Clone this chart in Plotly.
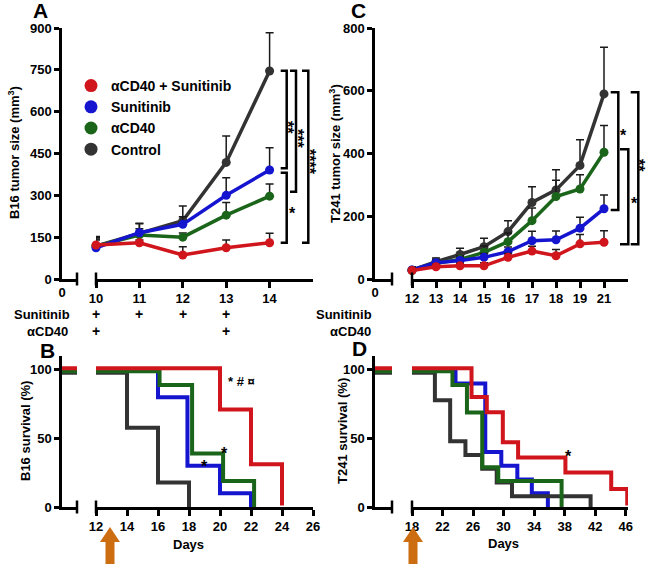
import plotly.graph_objects as go

W, H = 650, 565
def X(px): return px / W
def Y(py): return 1 - py / H

RED, BLUE, GREEN, BLACK = "#d0151d", "#1515d0", "#1b651b", "#333333"
ERRC = "#1a1a1a"
ORANGE = "#cc6d12"
FONT = "Liberation Sans Narrow, Liberation Sans, Arial, sans-serif"
FONT2 = "Liberation Sans, Arial, sans-serif"

names = ["αCD40 + Sunitinib", "Sunitinib", "αCD40", "Control"]
colors = [RED, BLUE, GREEN, BLACK]

# ---------------- Panel A: B16 tumor size ----------------
A_days = [10, 11, 12, 13, 14]
A_red = [122, 130, 86, 112, 130]
A_red_err = [30, 10, 30, 28, 34]
A_blue = [112, 166, 196, 300, 391]
A_blue_err = [28, 32, 27, 63, 80]
A_green = [118, 158, 150, 229, 297]
A_green_err = [25, 22, 15, 45, 44]
A_black = [118, 164, 209, 418, 746]
A_black_err = [30, 36, 53, 95, 137]

# ---------------- Panel C: T241 tumor size ----------------
C_days = ["12", "13", "14", "15", "16", "17", "18", "19", "21"]
C_red = [27, 39, 42, 42, 69, 89, 74, 112, 117]
C_red_err = [10, 8, 8, 10, 12, 15, 20, 30, 37]
C_blue = [29, 52, 59, 69, 87, 122, 125, 162, 224]
C_blue_err = [10, 10, 10, 12, 15, 30, 28, 35, 44]
C_green = [28, 50, 62, 85, 119, 186, 263, 287, 404]
C_green_err = [8, 10, 12, 20, 28, 40, 52, 45, 85]
C_black = [28, 55, 78, 103, 151, 244, 284, 362, 590]
C_black_err = [10, 12, 20, 27, 35, 50, 64, 82, 149]

# ---------------- Panel B: B16 survival ----------------
B_red_t = [0, 20, 22, 24]
B_red_s = [100, 70, 30, 0]
B_blue_t = [0, 16, 17.9, 20, 22]
B_blue_s = [100, 80, 30, 10, 0]
B_green_t = [0, 16.1, 18.2, 20.2, 22.2]
B_green_s = [100, 90, 40, 20, 0]
B_black_t = [0, 14, 16, 18]
B_black_s = [100, 60, 20, 0]

# ---------------- Panel D: T241 survival ----------------
D_red_t = [0, 25.8, 27.8, 29.9, 31.9, 38.1, 44.1, 46.2]
D_red_s = [100, 79, 68, 46, 35, 24, 12, 0]
D_blue_t = [0, 23.7, 27.6, 29.7, 31.8, 33.7, 35.8]
D_blue_s = [100, 90, 40, 30, 20, 10, 0]
D_green_t = [0, 23.3, 25.2, 27.2, 29.3, 37.6]
D_green_s = [100, 90, 70, 30, 20, 0]
D_black_t = [0, 21, 23, 25, 27.2, 29.1, 31.1, 41.4]
D_black_s = [100, 80, 50, 40, 30, 20, 10, 0]

# treatment schedule
A_sunitinib_days = [10, 11, 12, 13]
A_cd40_days = [10, 13]
C_sunitinib_days = ["12", "13", "14", "15", "16", "17", "18"]
C_cd40_days = ["12", "15", "18"]

A_xticks = [10, 11, 12, 13, 14]
B_xticks = [12, 14, 16, 18, 20, 22, 24, 26]
D_xticks = [18, 22, 26, 30, 34, 38, 42, 46]

fig = go.Figure()

tickfont = dict(family=FONT, size=13, color="black", weight="bold")

def yax(domain, rng, anchor, tickvals, **kw):
    d = dict(domain=domain, range=rng, anchor=anchor, tickvals=tickvals,
             showline=True, linecolor="black", linewidth=2.5, ticks="outside",
             ticklen=5, tickwidth=2.5, tickcolor="black", showgrid=False,
             zeroline=False, tickfont=tickfont, fixedrange=True, automargin=False)
    d.update(kw)
    return d

def xax(domain, rng, anchor, tickvals=None, **kw):
    d = dict(domain=domain, range=rng, anchor=anchor, showline=True,
             linecolor="black", linewidth=2.5, ticks="outside", ticklen=6,
             tickwidth=2.5, tickcolor="black", showgrid=False, zeroline=False,
             tickfont=tickfont, fixedrange=True, automargin=False)
    if tickvals is not None:
        d["tickvals"] = tickvals
    d.update(kw)
    return d

top_dom = [Y(279), Y(28)]
bot_dom = [Y(507), Y(356)]

layout_axes = dict(
    xaxis=xax([X(62), X(77)], [0, 1], "y", [0], ticktext=["0"], ticks=""),
    xaxis2=xax([X(96), X(313)], [10, 15], "y", A_xticks),
    yaxis=yax(top_dom, [0, 900], "x", [0, 150, 300, 450, 600, 750, 900]),
    xaxis3=xax([X(375), X(392)], [0, 1], "y2", [0], ticktext=["0"], ticks=""),
    xaxis4=xax([X(412), X(628)], [0, 9], "y2", None, type="category",
               categoryorder="array", categoryarray=C_days),
    yaxis2=yax(top_dom, [0, 800], "x3", [0, 200, 400, 600, 800]),
    xaxis5=xax([X(62), X(77)], [0, 1], "y3", None, showticklabels=False, ticks=""),
    xaxis6=xax([X(96), X(313)], [12, 26], "y3", B_xticks),
    yaxis3=yax(bot_dom, [0, 110], "x5", [0, 50, 100]),
    xaxis7=xax([X(375), X(392)], [0, 1], "y4", None, showticklabels=False, ticks=""),
    xaxis8=xax([X(412), X(628)], [18, 46.3], "y4", D_xticks),
    yaxis4=yax(bot_dom, [0, 110], "x7", [0, 50, 100]),
)

# empty traces so that the short left axis segments (day 0) exist as subplots
for xa, ya in (("x", "y"), ("x3", "y2")):
    fig.add_trace(go.Scatter(x=[None], y=[None], xaxis=xa, yaxis=ya, mode="lines",
                             showlegend=False, hoverinfo="skip"))

# tumor growth traces (control first so that the combination is on top)
A_sets = [(A_black, A_black_err, BLACK), (A_green, A_green_err, GREEN),
          (A_blue, A_blue_err, BLUE), (A_red, A_red_err, RED)]
C_sets = [(C_black, C_black_err, BLACK), (C_green, C_green_err, GREEN),
          (C_blue, C_blue_err, BLUE), (C_red, C_red_err, RED)]
for days, sets, xa, ya in [(A_days, A_sets, "x2", "y"), (C_days, C_sets, "x4", "y2")]:
    for vals, err, col in sets:
        fig.add_trace(go.Scatter(
            x=days, y=vals, xaxis=xa, yaxis=ya, mode="lines+markers",
            line=dict(color=col, width=3.5), marker=dict(size=9, color=col),
            error_y=dict(type="data", symmetric=False, array=err,
                         arrayminus=[0] * len(err), color=ERRC, thickness=1.5, width=4),
            cliponaxis=False, showlegend=False, hoverinfo="skip"))

# survival traces: each group on its own overlaid y scale, shifted a pixel or two
K = 151 / 110.0  # px per % in survival panels
shift_px = {RED: 1.5, BLUE: 0.0, GREEN: -1.5, BLACK: -3.0}
B_sets = [(B_black_t, B_black_s, BLACK), (B_green_t, B_green_s, GREEN),
          (B_blue_t, B_blue_s, BLUE), (B_red_t, B_red_s, RED)]
D_sets = [(D_black_t, D_black_s, BLACK), (D_green_t, D_green_s, GREEN),
          (D_blue_t, D_blue_s, BLUE), (D_red_t, D_red_s, RED)]
next_y = 5
for sets, base_y, stub_x, main_x in [(B_sets, "y3", "x5", "x6"), (D_sets, "y4", "x7", "x8")]:
    for t, s, col in sets:
        if shift_px[col] == 0:
            ya = base_y
        else:
            ya = "y%d" % next_y
            d = shift_px[col] / K
            layout_axes["yaxis%d" % next_y] = dict(
                overlaying=base_y, range=[-d, 110 - d], visible=False,
                fixedrange=True, automargin=False)
            next_y += 1
        for xa in (stub_x, main_x):
            fig.add_trace(go.Scatter(
                x=t, y=s, xaxis=xa, yaxis=ya, mode="lines", line_shape="hv",
                line=dict(color=col, width=4), showlegend=False, hoverinfo="skip"))

# legend entries (markers only)
for n, c in zip(names, colors):
    fig.add_trace(go.Scatter(x=[None], y=[None], xaxis="x2", yaxis="y", mode="markers",
                             marker=dict(size=13, color=c), name=n, legendgroup=n))

shapes = []
def seg(x0, y0, x1, y1, w=2.5):
    shapes.append(dict(type="line", xref="paper", yref="paper", x0=X(x0), y0=Y(y0),
                       x1=X(x1), y1=Y(y1), line=dict(color="black", width=w)))

def bracket(xh, xv, ytop, ybot):
    shapes.append(dict(type="path", xref="paper", yref="paper",
                       path="M %f,%f L %f,%f L %f,%f L %f,%f" % (
                           X(xh), Y(ytop), X(xv), Y(ytop), X(xv), Y(ybot), X(xh), Y(ybot)),
                       line=dict(color="black", width=2.5)))

# axis break marks
for px in (77, 96, 392, 412):
    for py in (279, 507):
        seg(px, py - 6.5, px, py + 6.5)

# significance brackets
bracket(280.7, 286.7, 70.7, 168.3)
bracket(280.7, 286.7, 172.7, 242.7)
bracket(290, 296, 70.7, 191.7)
bracket(302, 308.3, 70.7, 242.7)
bracket(610.7, 618.3, 92.3, 210)
bracket(620, 628.3, 149.3, 244.3)
bracket(630.7, 638.3, 92.3, 244.3)

# orange arrows (treatment start)
for cx in (110, 413):
    pts = [(cx, 527), (cx + 10, 542), (cx + 4.5, 542), (cx + 4.5, 564), (cx - 4.5, 564),
           (cx - 4.5, 542), (cx - 10, 542)]
    path = "M " + " L ".join("%f,%f" % (X(a), Y(b)) for a, b in pts) + " Z"
    shapes.append(dict(type="path", xref="paper", yref="paper", path=path,
                       fillcolor=ORANGE, line=dict(width=0)))

ann = []
def text(t, px, py, size=13, xanchor="center", angle=0, family=FONT, bold=True,
         xref="paper", xval=None):
    ann.append(dict(text=t, x=X(px) if xval is None else xval, y=Y(py), xref=xref,
                    yref="paper", xanchor=xanchor, yanchor="middle", showarrow=False,
                    textangle=angle,
                    font=dict(family=family, size=size, color="black",
                              weight="bold" if bold else "normal")))

# panel letters
text("A", 40, 11, 21, family=FONT2)
text("C", 358, 11, 21, family=FONT2)
text("B", 47, 350, 21, family=FONT2)
text("D", 359, 348, 21, family=FONT2)

# axis titles
text("B16 tumor size (mm<sup>3</sup>)", 14, 153, 13, angle=-90)
text("T241 tumor size (mm<sup>3</sup>)", 335, 153, 13, angle=-90)
text("B16 survival (%)", 25, 431, 13, angle=-90)
text("T241 survival (%)", 342, 431, 13, angle=-90)
text("Days", 188, 544, 13)
text("Days", 503, 543, 13)

# treatment schedule rows
text("Sunitinib", 72, 314, 13, xanchor="right")
text("αCD40", 70, 331, 13, xanchor="right", family=FONT2)
text("Sunitinib", 374, 314, 13, xanchor="right")
text("αCD40", 373, 331, 13, xanchor="right", family=FONT2)
for d in A_sunitinib_days:
    text("+", 0, 314, 14, xref="x2", xval=d, family=FONT2)
for d in A_cd40_days:
    text("+", 0, 331, 14, xref="x2", xval=d, family=FONT2)
for d in C_sunitinib_days:
    text("+", 0, 314, 14, xref="x4", xval=d, family=FONT2)
for d in C_cd40_days:
    text("+", 0, 331, 14, xref="x4", xval=d, family=FONT2)

# significance labels (rotated asterisks sit ~4 px right of the box centre)
text("**", 288, 127, 16, angle=90, family=FONT2)
text("*", 292, 214, 16, family=FONT2)
text("***", 298, 138, 16, angle=90, family=FONT2)
text("****", 310, 162, 16, angle=90, family=FONT2)
text("*", 623, 135, 16, family=FONT2)
text("*", 634, 203, 16, family=FONT2)
text("**", 639, 165, 16, angle=90, family=FONT2)
text("* # ¤", 241, 381, 13, family=FONT2)
text("*", 224, 453, 16, family=FONT2)
text("*", 204, 466, 16, family=FONT2)
text("*", 568, 457, 16, family=FONT2)

fig.update_layout(
    width=W, height=H, margin=dict(l=0, r=0, t=0, b=0, autoexpand=False),
    paper_bgcolor="white", plot_bgcolor="white",
    shapes=shapes, annotations=ann,
    legend=dict(x=X(71), y=Y(70), xanchor="left", yanchor="top",
                font=dict(family=FONT2, size=14, color="black", weight="bold"),
                tracegroupgap=0, itemwidth=30, bgcolor="rgba(0,0,0,0)"),
    **layout_axes)

# drop the browser's default 8 px page margin so the figure fills the window
fig.write_html("out.html", config={"displayModeBar": False},
               post_script="document.body.style.margin='0px';")
